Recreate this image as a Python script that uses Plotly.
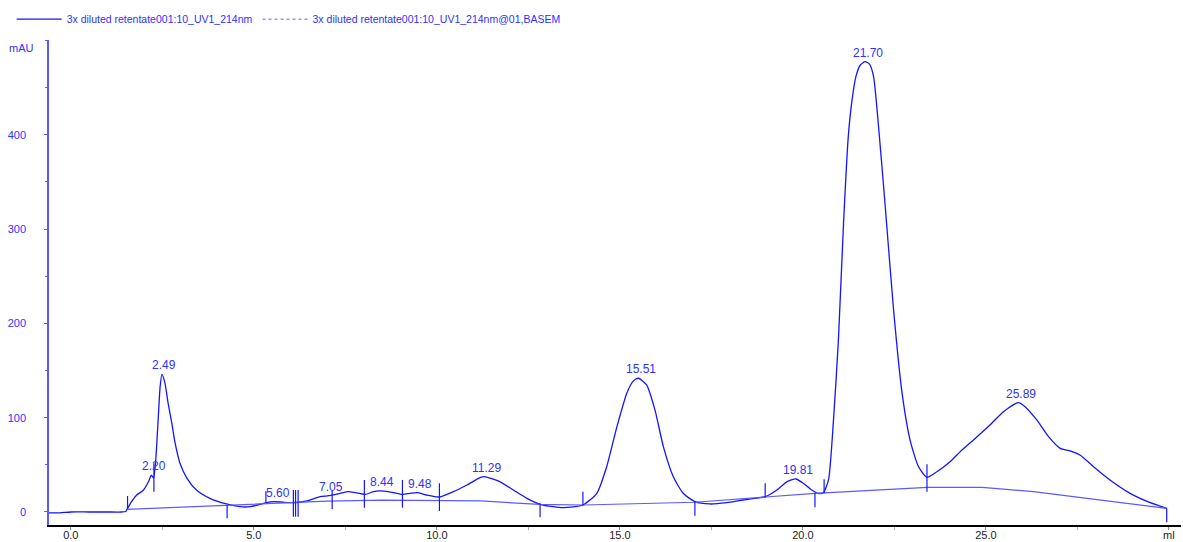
import plotly.graph_objects as go

# ---- data ----
vol = [-0.6, -0.3, 0.0, 0.5, 1.0, 1.4, 1.5, 1.53, 1.66, 1.80, 1.98, 2.12, 2.20, 2.26, 2.32,
       2.39, 2.44, 2.49, 2.57, 2.66, 2.76, 2.85, 2.98, 3.17, 3.44, 3.80, 4.25, 4.62, 4.90,
       5.17, 5.35, 5.55, 5.81, 6.13, 6.45, 6.81, 7.05, 7.36, 7.58, 7.77, 8.04, 8.27, 8.44,
       8.77, 9.06, 9.27, 9.48, 9.72, 10.07, 10.45, 10.82, 11.18, 11.29, 11.73, 12.09, 12.46,
       12.82, 13.18, 13.46, 13.99, 14.37, 14.64, 14.92, 15.19, 15.37, 15.51, 15.73, 15.96,
       16.19, 16.46, 16.73, 17.05, 17.46, 17.92, 18.37, 18.83, 18.97, 19.29, 19.56, 19.81,
       20.01, 20.24, 20.42, 20.56, 20.70, 20.83, 20.97, 21.11, 21.24, 21.34, 21.45, 21.57,
       21.70, 21.82, 21.93, 22.06, 22.25, 22.47, 22.70, 22.93, 23.16, 23.39, 23.66, 24.02,
       24.30, 24.66, 25.11, 25.48, 25.89, 26.07, 26.39, 26.71, 27.03, 27.30, 27.57, 27.94,
       28.39, 28.94, 29.49, 29.94]
uv = [-1.0, -1.0, 0.0, 0.0, 0.0, 0.0, 0.5, 2.5, 11.0, 18.0, 23.0, 32.0, 39.0, 36.0, 55.0,
      101.0, 133.0, 146.0, 137.0, 115.0, 94.0, 73.0, 52.0, 36.0, 23.0, 14.5, 8.5, 5.6, 5.6,
      8.0, 10.0, 11.0, 10.3, 9.9, 11.7, 16.2, 17.3, 19.8, 21.5, 20.5, 18.7, 21.5, 22.3,
      20.9, 18.7, 19.8, 20.5, 18.0, 15.9, 21.5, 28.6, 36.4, 37.5, 32.0, 23.3, 14.5,
      8.1, 5.6, 4.6, 7.4, 19.8, 48.0, 90.5, 126.0, 139.0, 141.8, 134.7, 108.0,
      69.0, 37.4, 19.8, 11.0, 8.5, 9.9, 12.7, 15.2, 16.2, 23.3, 32.0, 35.0,
      30.4, 23.3, 19.8, 20.5, 34.0, 94.0, 182.0, 306.0, 398.0, 436.0, 462.0, 474.0,
      477.5, 475.0, 462.0, 412.0, 324.0, 217.7, 129.0, 76.0, 48.0, 36.8, 42.7, 53.3,
      64.0, 76.4, 92.3, 106.4, 116.0, 111.7, 97.6, 79.9, 67.5, 64.7, 60.4, 48.0,
      34.0, 19.8, 9.9, 3.9]

base_vol = [1.53, 4.26, 5.5, 7.0, 8.5, 10.0, 11.2, 12.8, 14.0, 17.05, 18.97, 20.33, 23.4,
            24.9, 26.3, 27.7, 29.0, 29.94]
base_uv = [2.8, 7.4, 9.5, 11.5, 12.5, 12.5, 11.7, 8.1, 7.4, 10.3, 16.2, 19.8, 26.2,
           26.2, 21.5, 14.5, 8.5, 3.9]

# peak boundary / fraction marks: volume, lower mAU, upper mAU
mark_vol = [1.55, 2.27, 4.27, 5.33, 6.08, 6.14, 6.21, 7.14, 8.02, 9.06, 10.07, 12.82,
            13.99, 17.05, 18.97, 20.33, 20.58, 23.39, 29.94]
mark_lo = [3, 21.5, -6.7, 10, -5, -5, -5, 3.2, 4.6, 4.6, 1, -5.6, 6.7, -3.9, 15.2, 5,
           19.8, 21.5, -11]
mark_hi = [17, 51.6, 7.4, 22, 23.3, 23.3, 23.3, 22.3, 34, 34, 30.4, 9.2, 21.5, 11, 30.4,
           19.8, 34.7, 50.6, 3.9]

peak_labels = ["2.20", "2.49", "5.60", "7.05", "8.44", "9.48", "11.29", "15.51", "19.81",
               "21.70", "25.89"]
peak_heights = [39, 146, 11, 17.3, 22.3, 20.5, 37.5, 141.8, 35, 477.5, 116]

x_tickvals = [0, 5, 10, 15, 20, 25, 30]
x_ticktext = ["0.0", "5.0", "10.0", "15.0", "20.0", "25.0", "ml"]
y_tickvals = [0, 100, 200, 300, 400]

name_main = "3x diluted retentate001:10_UV1_214nm"
name_base = "3x diluted retentate001:10_UV1_214nm@01,BASEM"

FONT = "Arial, Liberation Sans, sans-serif"
BLUE = "#1414ff"
LBLUE = "#5a5aff"

fig = go.Figure()

fig.add_trace(go.Scatter(x=vol, y=uv, mode="lines", name=name_main,
                         line=dict(color=BLUE, width=1.3, shape="spline", smoothing=0.6)))
fig.add_trace(go.Scatter(x=base_vol, y=base_uv, mode="lines", showlegend=False,
                         line=dict(color=LBLUE, width=1.2)))
fig.add_trace(go.Scatter(x=[None], y=[None], mode="lines", name=name_base,
                         line=dict(color=LBLUE, width=1, dash="dot")))

mx, my = [], []
for v, lo, hi in zip(mark_vol, mark_lo, mark_hi):
    mx += [v, v, None]
    my += [lo, hi, None]
fig.add_trace(go.Scatter(x=mx, y=my, mode="lines", showlegend=False,
                         line=dict(color=BLUE, width=1.2)))

for lab, h in zip(peak_labels, peak_heights):
    fig.add_annotation(x=float(lab), y=h, text=lab, showarrow=False,
                       xanchor="center", yanchor="bottom", xshift=2.5, yshift=0,
                       font=dict(family=FONT, size=12, color="#3030ff"))

fig.add_annotation(xref="paper", yref="paper", x=-0.024, y=0.984, text="mAU",
                   showarrow=False, xanchor="center", yanchor="middle",
                   font=dict(family=FONT, size=11, color="#3030ff"))

fig.update_layout(
    width=1183, height=542,
    margin=dict(l=49, r=2, t=40, b=17),
    paper_bgcolor="white", plot_bgcolor="white",
    font=dict(family=FONT, size=11),
    showlegend=True,
    legend=dict(orientation="h", x=-0.033, y=1.043, xanchor="left", yanchor="middle",
                font=dict(family=FONT, size=10.5, color="#3030ff"),
                itemwidth=45, bgcolor="rgba(0,0,0,0)", tracegroupgap=0),
    xaxis=dict(range=[-0.596, 30.33], showgrid=False, zeroline=False, automargin=False,
               showline=True, linecolor="black", linewidth=1.5,
               tickvals=x_tickvals, ticktext=x_ticktext, ticks="outside",
               ticklen=3, tickcolor="#888", ticklabelstandoff=-4,
               tickfont=dict(family=FONT, size=11, color="#222"),
               minor=dict(dtick=2.5, tick0=0, ticks="outside", ticklen=3, tickcolor="#aaa")),
    yaxis=dict(range=[-13.8, 500.5], showgrid=False, zeroline=False, automargin=False,
               showline=True, linecolor="#5a5aff", linewidth=1.5,
               tickvals=y_tickvals, ticks="outside", ticklen=3, tickcolor="#5a5aff",
               ticklabelstandoff=16,
               tickfont=dict(family=FONT, size=11, color="#3030ff"),
               minor=dict(dtick=50, tick0=0, ticks="outside", ticklen=2, tickcolor="#5a5aff")),
)

fig.write_html("out.html")
